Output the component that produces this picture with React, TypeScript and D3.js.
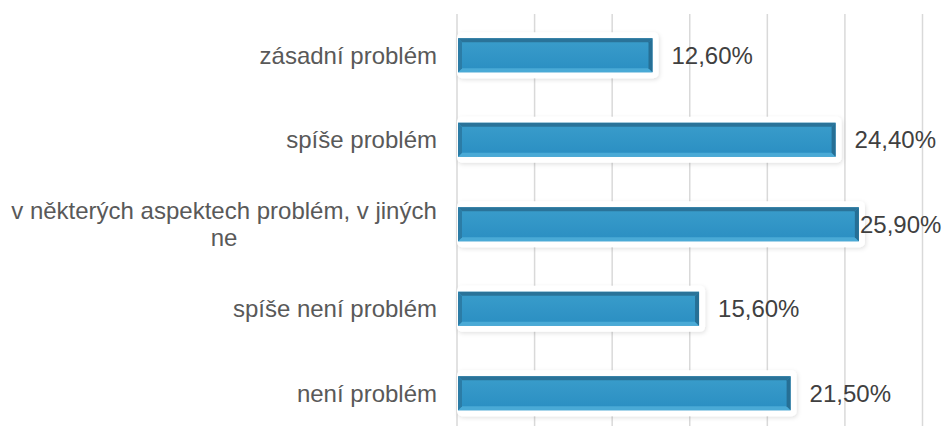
import React from "react";
import * as d3 from "d3";

const categories = [
  "zásadní problém",
  "spíše problém",
  "v některých aspektech problém, v jiných ne",
  "spíše není problém",
  "není problém",
];
const values = [12.6, 24.4, 25.9, 15.6, 21.5];
const valueLabels = ["12,60%", "24,40%", "25,90%", "15,60%", "21,50%"];
const gridTicks = [0, 5, 10, 15, 20, 25, 30];
const labelLines: string[][] = [
  ["zásadní problém"],
  ["spíše problém"],
  ["v některých aspektech problém, v jiných", "ne"],
  ["spíše není problém"],
  ["není problém"],
];

const W = 949;
const H = 426;

export default function App() {
  const x = d3.scaleLinear().domain([0, 30]).range([457, 922.5]);
  const y = d3.scaleBand<string>().domain(categories).range([13, 435.5]).padding(0);
  const barH = 34;
  const bev = 4;
  const font = "'Liberation Sans', Arial, sans-serif";
  const fs = 24;

  return (
    <svg
      width={W}
      height={H}
      style={{ position: "absolute", left: 0, top: 0, background: "#fff" }}
      fontFamily={font}
    >
      <defs>
        <linearGradient id="barGrad" x1="0" y1="0" x2="0" y2="1">
          <stop offset="0" stopColor="#3a9dcb" />
          <stop offset="1" stopColor="#2a8ec2" />
        </linearGradient>
        <filter id="glow" x="-10%" y="-40%" width="120%" height="180%">
          <feDropShadow dx="1" dy="1.5" stdDeviation="2" floodColor="#000" floodOpacity="0.12" />
        </filter>
      </defs>
      {gridTicks.map((t) => (
        <line
          key={t}
          x1={x(t)}
          x2={x(t)}
          y1={14}
          y2={H}
          stroke="#d9d9d9"
          strokeWidth={1.5}
        />
      ))}
      {categories.map((c, i) => {
        const cy = (y(c) as number) + y.bandwidth() / 2;
        const x0 = x(0) + 1;
        const x1 = x(values[i]);
        const top = cy - barH / 2;
        const bot = cy + barH / 2;
        let lx = x1 + 19;
        const approxW = valueLabels[i].length * 13.5;
        if (lx + approxW > 941) lx = 941 - approxW;
        return (
          <g key={c}>
            <rect
              x={x0 - 1}
              y={top - 6}
              width={x1 - x0 + 7}
              height={barH + 12}
              rx={5}
              fill="#fff"
              filter="url(#glow)"
            />
            <rect x={x0} y={top} width={x1 - x0} height={barH} fill="url(#barGrad)" />
            <polygon
              points={`${x0},${top} ${x1},${top} ${x1 - bev},${top + bev} ${x0 + bev},${top + bev}`}
              fill="#2a7399"
            />
            <polygon
              points={`${x0},${bot} ${x1},${bot} ${x1 - bev},${bot - bev} ${x0 + bev},${bot - bev}`}
              fill="#4aaad6"
            />
            <polygon
              points={`${x0},${top} ${x0 + bev},${top + bev} ${x0 + bev},${bot - bev} ${x0},${bot}`}
              fill="#2b7ca6"
            />
            <polygon
              points={`${x1},${top} ${x1 - bev},${top + bev} ${x1 - bev},${bot - bev} ${x1},${bot}`}
              fill="#266f95"
            />
            <text x={lx} y={cy} dy="0.36em" fontSize={fs} fill="#404040">
              {valueLabels[i]}
            </text>
            {labelLines[i].length === 1 ? (
              <text
                x={437}
                y={cy}
                dy="0.36em"
                textAnchor="end"
                fontSize={fs}
                fill="#595959"
              >
                {labelLines[i][0]}
              </text>
            ) : (
              labelLines[i].map((ln, k) => (
                <text
                  key={k}
                  x={224}
                  y={cy + (k - (labelLines[i].length - 1) / 2) * 27}
                  dy="0.36em"
                  textAnchor="middle"
                  fontSize={fs}
                  fill="#595959"
                >
                  {ln}
                </text>
              ))
            )}
          </g>
        );
      })}
    </svg>
  );
}
